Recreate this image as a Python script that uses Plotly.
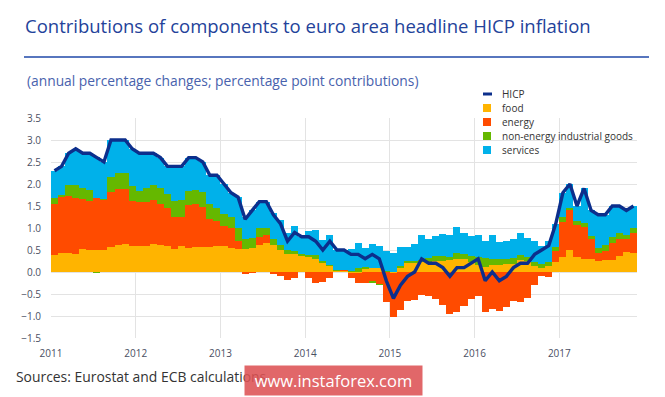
import plotly.graph_objects as go

start_year = 2011
n_months = 83

hicp = [2.3, 2.4, 2.7, 2.8, 2.7, 2.7, 2.6, 2.5, 3.0, 3.0, 3.0, 2.8,
        2.7, 2.7, 2.7, 2.6, 2.4, 2.4, 2.4, 2.6, 2.6, 2.5, 2.2, 2.2,
        2.0, 1.8, 1.7, 1.2, 1.4, 1.6, 1.6, 1.3, 1.1, 0.7, 0.9, 0.8,
        0.8, 0.7, 0.5, 0.7, 0.5, 0.5, 0.4, 0.4, 0.3, 0.4, 0.3, -0.2,
        -0.6, -0.3, -0.1, 0.0, 0.3, 0.2, 0.2, 0.1, -0.1, 0.1, 0.1, 0.2,
        0.3, -0.2, 0.0, -0.2, -0.1, 0.1, 0.2, 0.2, 0.4, 0.5, 0.6, 1.1,
        1.8, 2.0, 1.5, 1.9, 1.4, 1.3, 1.3, 1.5, 1.5, 1.4, 1.5]

food = [0.38, 0.43, 0.44, 0.42, 0.53, 0.50, 0.50, 0.50, 0.56, 0.62, 0.63, 0.60,
        0.60, 0.60, 0.64, 0.62, 0.58, 0.52, 0.60, 0.55, 0.56, 0.57, 0.57, 0.58,
        0.60, 0.55, 0.52, 0.52, 0.55, 0.62, 0.66, 0.62, 0.50, 0.42, 0.40, 0.38,
        0.33, 0.29, 0.20, 0.14, 0.04, 0.04, -0.02, -0.03, 0.06, 0.10, 0.10, 0.00,
        -0.02, 0.10, 0.20, 0.21, 0.23, 0.23, 0.25, 0.25, 0.27, 0.29, 0.29, 0.23,
        0.16, 0.12, 0.16, 0.16, 0.18, 0.18, 0.27, 0.25, 0.14, 0.10, 0.14, 0.23,
        0.33, 0.49, 0.35, 0.29, 0.29, 0.25, 0.27, 0.27, 0.37, 0.45, 0.43]

energy = [1.17, 1.29, 1.29, 1.27, 1.13, 1.11, 1.18, 1.14, 1.26, 1.26, 1.25, 1.02,
          1.00, 1.00, 1.00, 0.93, 0.88, 0.72, 0.65, 0.98, 0.98, 0.90, 0.64, 0.57,
          0.45, 0.45, 0.19, -0.04, -0.02, 0.18, 0.17, -0.03, -0.08, -0.18, -0.14, 0.00,
          -0.13, -0.25, -0.22, -0.13, 0.00, 0.01, -0.11, -0.22, -0.25, -0.22, -0.28, -0.68,
          -1.01, -0.86, -0.67, -0.63, -0.53, -0.55, -0.62, -0.76, -0.95, -0.92, -0.78, -0.62,
          -0.55, -0.91, -0.85, -0.88, -0.80, -0.65, -0.68, -0.58, -0.30, -0.10, -0.11, 0.25,
          0.80, 0.91, 0.72, 0.74, 0.45, 0.19, 0.21, 0.39, 0.38, 0.29, 0.46]

neig = [0.13, 0.04, 0.25, 0.28, 0.26, 0.25, -0.02, 0.01, 0.34, 0.37, 0.37, 0.33,
        0.25, 0.32, 0.33, 0.36, 0.32, 0.38, 0.38, 0.32, 0.32, 0.34, 0.33, 0.30,
        0.26, 0.24, 0.28, 0.24, 0.22, 0.19, 0.16, 0.13, 0.12, 0.08, 0.08, 0.04,
        0.05, 0.10, 0.05, 0.03, 0.01, 0.00, 0.02, 0.08, 0.05, -0.02, -0.01, 0.03,
        0.00, 0.03, 0.05, 0.03, 0.05, 0.08, 0.12, 0.11, 0.08, 0.15, 0.13, 0.13,
        0.19, 0.19, 0.13, 0.13, 0.11, 0.13, 0.11, 0.08, 0.08, 0.08, 0.08, 0.08,
        0.13, 0.05, 0.08, 0.08, 0.08, 0.11, 0.13, 0.13, 0.13, 0.11, 0.11]

services = [0.62, 0.64, 0.72, 0.83, 0.78, 0.84, 0.94, 0.85, 0.84, 0.75, 0.75, 0.85,
            0.85, 0.78, 0.73, 0.69, 0.62, 0.78, 0.77, 0.75, 0.74, 0.69, 0.66, 0.75,
            0.69, 0.56, 0.71, 0.48, 0.65, 0.61, 0.61, 0.58, 0.56, 0.38, 0.56, 0.38,
            0.55, 0.56, 0.47, 0.66, 0.45, 0.45, 0.51, 0.57, 0.44, 0.54, 0.49, 0.45,
            0.43, 0.43, 0.32, 0.39, 0.55, 0.44, 0.45, 0.50, 0.50, 0.58, 0.46, 0.46,
            0.50, 0.40, 0.56, 0.39, 0.41, 0.44, 0.50, 0.45, 0.48, 0.42, 0.49, 0.54,
            0.54, 0.55, 0.35, 0.79, 0.58, 0.75, 0.69, 0.71, 0.62, 0.55, 0.50]

year_ticks = [2011, 2012, 2013, 2014, 2015, 2016, 2017]
year_labels = ["2011", "2012", "2013", "2014", "2015", "2016", "2017"]

series_names = ["food", "energy", "non-energy industrial goods", "services"]
series_colors = ["#ffb400", "#ff4b00", "#65b800", "#00b1ea"]
hicp_color = "#0c2f8c"

x = [start_year + (i + 0.5) / 12 for i in range(n_months)]

fig = go.Figure()
for name, vals, col in zip(series_names, [food, energy, neig, services], series_colors):
    fig.add_trace(go.Bar(x=x, y=vals, name=name, width=1 / 12, marker=dict(color=col, line=dict(width=0)),
                         showlegend=False))
fig.add_trace(go.Scatter(x=x, y=hicp, name="HICP", mode="lines",
                         line=dict(color=hicp_color, width=3.4), showlegend=False))

# page body has an 8px margin: work in reference pixels and shift by OFF
OFF = 8
W, H = 665 - OFF, 397 - OFF
plot_left, plot_right, plot_top, plot_bottom = 51, 637, 118, 338
L = plot_left - OFF
R = W - (plot_right - OFF)
T = plot_top - OFF
B = H - (plot_bottom - OFF)
pw, ph = W - L - R, H - T - B


def px(xp):
    return (xp - OFF - L) / pw


def py(yp):
    return (H - B - (yp - OFF)) / ph


annotations = []
shapes = []

annotations.append(dict(text="Contributions of components to euro area headline HICP inflation",
                        x=px(23), y=py(25), xref="paper", yref="paper", xanchor="left", yanchor="middle",
                        showarrow=False, font=dict(family="Open Sans", size=18.5, color="#23429a")))
shapes.append(dict(type="line", xref="paper", yref="paper", x0=px(24), x1=px(649), y0=py(57), y1=py(57),
                   line=dict(color="#1f48a8", width=1.3)))
annotations.append(dict(text="(annual percentage changes; percentage point contributions)",
                        x=px(25), y=py(80), xref="paper", yref="paper", xanchor="left", yanchor="middle",
                        showarrow=False, font=dict(family="Open Sans", size=13.8, color="#4862ad")))
annotations.append(dict(text="Sources: Eurostat and ECB calculations",
                        x=px(14), y=py(376), xref="paper", yref="paper", xanchor="left", yanchor="middle",
                        showarrow=False, font=dict(family="Open Sans", size=13.9, color="#333333")))

leg_names = ["HICP"] + series_names
leg_colors = [hicp_color] + series_colors
leg_y = [94, 108, 122, 136, 150]
for i, (nm, col, yy) in enumerate(zip(leg_names, leg_colors, leg_y)):
    if i == 0:
        shapes.append(dict(type="rect", xref="paper", yref="paper", x0=px(483), x1=px(492),
                           y0=py(yy + 1.5), y1=py(yy - 1.5), fillcolor=col, line=dict(width=0)))
    else:
        shapes.append(dict(type="rect", xref="paper", yref="paper", x0=px(483), x1=px(491),
                           y0=py(yy + 4), y1=py(yy - 4), fillcolor=col, line=dict(width=0)))
    annotations.append(dict(text=nm, x=px(500), y=py(yy), xref="paper", yref="paper",
                            xanchor="left", yanchor="middle", showarrow=False,
                            font=dict(family="Open Sans", size=10, color="#333333")))

# semi-transparent watermark box drawn over the sources text
annotations.append(dict(text="www.instaforex.com", x=px(333.5), y=py(380.5), xref="paper", yref="paper",
                        xanchor="center", yanchor="middle", showarrow=False,
                        font=dict(family="Open Sans", size=16.5, color="#ffffff"),
                        bgcolor="rgba(221,82,84,0.88)", borderpad=0, width=177, height=29))

fig.update_layout(
    width=W, height=H,
    margin=dict(l=L, r=R, t=T, b=B, pad=0),
    paper_bgcolor="white", plot_bgcolor="white",
    barmode="relative", bargap=0,
    showlegend=False,
    font=dict(family="Open Sans", size=10, color="#555555"),
    xaxis=dict(range=[start_year, start_year + n_months / 12], tickmode="array",
               tickvals=year_ticks, ticktext=year_labels, showgrid=True, gridcolor="#e3e3e3",
               gridwidth=1, zeroline=False, showline=False, ticks="outside", ticklen=6,
               tickcolor="rgba(0,0,0,0)", tickfont=dict(size=10, color="#4a4f63")),
    yaxis=dict(range=[-1.5, 3.5], dtick=0.5, tick0=-1.5, tickformat=".1f", showgrid=True,
               gridcolor="#e3e3e3", gridwidth=1, zeroline=False, showline=False, ticks="outside",
               ticklen=7, tickcolor="rgba(0,0,0,0)", tickfont=dict(size=10, color="#4a4f63")),
    annotations=annotations,
    shapes=shapes,
)

fig.write_html("out.html")
